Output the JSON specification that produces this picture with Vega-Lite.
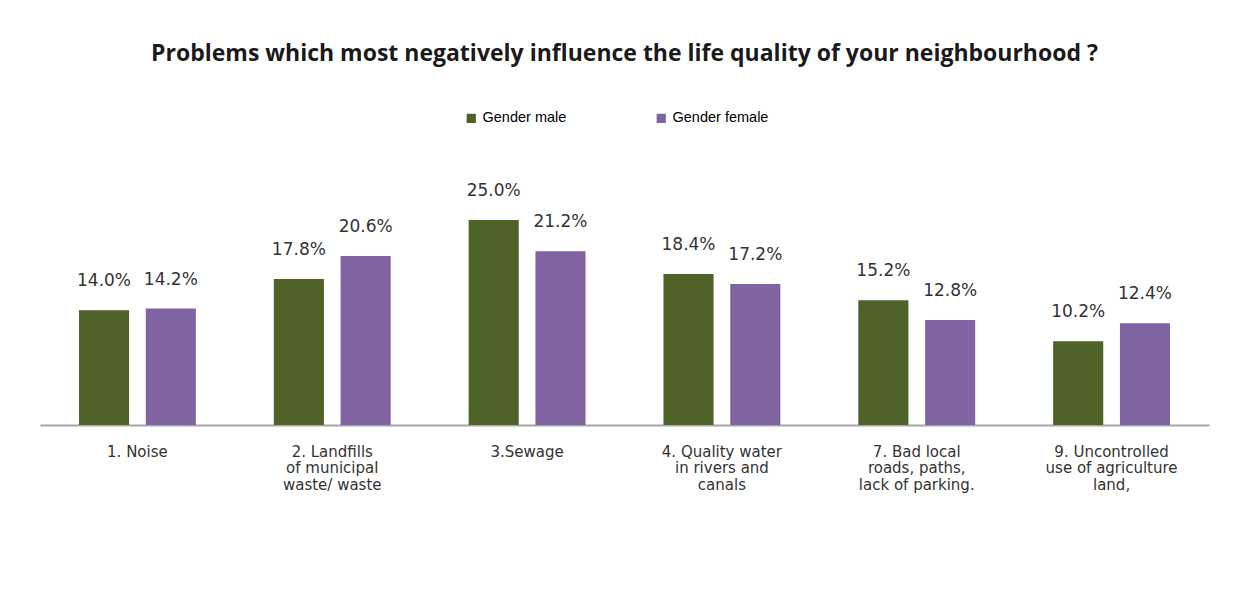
{
  "$schema": "https://vega.github.io/schema/vega-lite/v6.json",
  "width": 1169,
  "height": 246,
  "autosize": {"type": "none"},
  "padding": {"left": 40, "top": 179, "right": 30, "bottom": 169},
  "background": "white",
  "title": {
    "text": "Problems which most negatively influence the life quality of your neighbourhood ?",
    "font": "Open Sans",
    "fontSize": 23,
    "fontWeight": "bold",
    "color": "#1a1a1a",
    "anchor": "middle",
    "baseline": "alphabetic",
    "offset": 27
  },
  "data": {
    "values": [
      {"category": "1. Noise", "gender": "Gender male", "value": 0.140},
      {"category": "1. Noise", "gender": "Gender female", "value": 0.142},
      {"category": "2. Landfills|of municipal|waste/ waste", "gender": "Gender male", "value": 0.178},
      {"category": "2. Landfills|of municipal|waste/ waste", "gender": "Gender female", "value": 0.206},
      {"category": "3.Sewage", "gender": "Gender male", "value": 0.250},
      {"category": "3.Sewage", "gender": "Gender female", "value": 0.212},
      {"category": "4. Quality water|in rivers and|canals", "gender": "Gender male", "value": 0.184},
      {"category": "4. Quality water|in rivers and|canals", "gender": "Gender female", "value": 0.172},
      {"category": "7. Bad local|roads, paths,|lack of parking.", "gender": "Gender male", "value": 0.152},
      {"category": "7. Bad local|roads, paths,|lack of parking.", "gender": "Gender female", "value": 0.128},
      {"category": "9. Uncontrolled|use of agriculture|land,", "gender": "Gender male", "value": 0.102},
      {"category": "9. Uncontrolled|use of agriculture|land,", "gender": "Gender female", "value": 0.124}
    ]
  },
  "encoding": {
    "x": {
      "field": "category",
      "type": "nominal",
      "sort": null,
      "scale": {"paddingInner": 0.4, "paddingOuter": 0.2},
      "axis": {
        "title": null,
        "labelAngle": 0,
        "labelExpr": "split(datum.label, '|')",
        "labelFont": "DejaVu Sans",
        "labelFontSize": 15,
        "labelColor": "#333333",
        "labelLineHeight": 16.5,
        "labelBaseline": "top",
        "labelPadding": 19,
        "labelLimit": 300,
        "ticks": false,
        "domainColor": "#a6a6a6",
        "domainWidth": 2
      }
    },
    "xOffset": {
      "field": "gender",
      "type": "nominal",
      "sort": ["Gender male", "Gender female"],
      "scale": {"paddingInner": 0.25, "paddingOuter": 0}
    },
    "y": {
      "field": "value",
      "type": "quantitative",
      "scale": {"domain": [0, 0.3]},
      "axis": null
    }
  },
  "layer": [
    {
      "mark": {"type": "bar"},
      "encoding": {
        "color": {
          "field": "gender",
          "type": "nominal",
          "sort": ["Gender male", "Gender female"],
          "scale": {"domain": ["Gender male", "Gender female"], "range": ["#4f6228", "#8064a2"]},
          "legend": {
            "title": null,
            "orient": "none",
            "direction": "horizontal",
            "legendX": 424,
            "legendY": -68,
            "symbolType": "square",
            "symbolSize": 85,
            "symbolOpacity": 1,
            "labelFont": "Liberation Sans",
            "labelFontSize": 14.5,
            "labelColor": "#000000",
            "labelOffset": 4,
            "columnPadding": 87
          }
        }
      }
    },
    {
      "mark": {
        "type": "text",
        "baseline": "middle",
        "dy": -29,
        "font": "DejaVu Sans",
        "fontSize": 17,
        "color": "#333333"
      },
      "encoding": {
        "text": {"field": "value", "type": "quantitative", "format": ".1%"},
        "detail": {"field": "gender"}
      }
    }
  ],
  "config": {
    "view": {"stroke": null}
  }
}
